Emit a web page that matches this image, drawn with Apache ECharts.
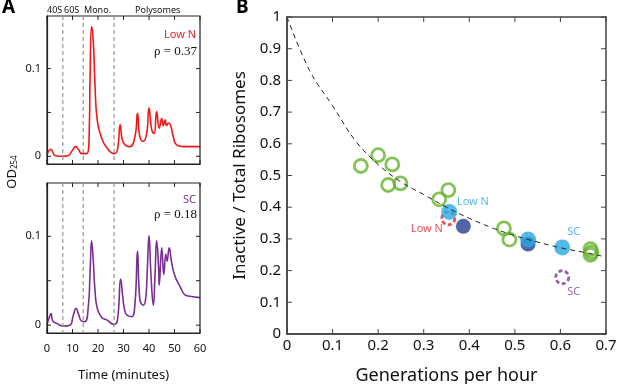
<!DOCTYPE html>
<html>
<head>
<meta charset="utf-8">
<script src="https://cdn.jsdelivr.net/npm/echarts@6/dist/echarts.min.js"></script>
<style>
  html, body { margin: 0; padding: 0; background: #fff; }
  #main { width: 617px; height: 384px; }
</style>
</head>
<body>
<div id="main"></div>
<script>
// Panel A: polysome profiles (time in minutes, OD254)
var lowNTime = [0, 1.5, 3.2, 6.2, 8.4, 10, 11.2, 12.5, 13.6, 15.6, 16.6, 16.9, 17.5, 18.2, 18.8, 19.7, 21.4, 23.4, 26.3, 27.6, 28.7, 29.5, 30.6, 32.5, 34.5, 35.5, 36.4, 37.8, 39.1, 40, 41.1, 42, 43, 44, 45, 45.6, 46.3, 46.9, 47.6, 48.5, 49.5, 50.8, 53.5, 56, 60];
var lowNOD = [0.002, 0.008, 0.001, 0, 0.001, 0.007, 0.011, 0.007, 0.003, 0.003, 0.034, 0.09, 0.148, 0.129, 0.083, 0.041, 0.021, 0.010, 0.003, 0.0074, 0.036, 0.019, 0.013, 0.011, 0.0225, 0.049, 0.0225, 0.017, 0.026, 0.055, 0.030, 0.026, 0.051, 0.032, 0.043, 0.035, 0.0415, 0.035, 0.038, 0.035, 0.0225, 0.013, 0.011, 0.011, 0.011];
var scTime = [0, 0.7, 1.6, 2.2, 3.8, 6.4, 9, 10.3, 11.4, 12.3, 13.6, 14.9, 16.2, 16.9, 17.5, 18.2, 18.8, 19.7, 21.4, 23.4, 26.3, 27.6, 28.9, 29.7, 30.6, 31.5, 33.2, 34.5, 35.5, 36.4, 37.8, 38.7, 39.3, 40, 40.8, 41.7, 42.4, 43, 43.8, 44, 45, 45.8, 46.6, 47.1, 47.9, 48.9, 50.2, 52.2, 54.1, 56, 60];
var scOD = [0.001, 0.007, 0.013, 0.005, 0.002, -0.001, 0, 0.011, 0.019, 0.013, 0.0046, 0.004, 0.021, 0.06, 0.095, 0.070, 0.040, 0.019, 0.009, 0.006, 0.001, 0.005, 0.052, 0.032, 0.015, 0.011, 0.0095, 0.0245, 0.0835, 0.029, 0.0225, 0.03, 0.06, 0.1007, 0.055, 0.0225, 0.06, 0.095, 0.0626, 0.045, 0.087, 0.057, 0.080, 0.072, 0.087, 0.070, 0.055, 0.0435, 0.034, 0.0325, 0.031];
var fractionLines = [6.2, 14.2, 26.3];
var timeTicks = [0, 10, 20, 30, 40, 50, 60];
var odTicks = [0, 0.05, 0.1];

// Panel B: inactive fraction vs growth rate
var greenX = [0.162, 0.200, 0.231, 0.222, 0.249, 0.334, 0.354, 0.476, 0.488, 0.666, 0.668, 0.666];
var greenY = [0.530, 0.564, 0.535, 0.470, 0.475, 0.425, 0.454, 0.333, 0.298, 0.268, 0.258, 0.250];
var darkX = [0.387, 0.529];
var darkY = [0.340, 0.284];
var cyanX = [0.356, 0.529, 0.604];
var cyanY = [0.385, 0.298, 0.273];
var redRingX = [0.354];
var redRingY = [0.365];
var purpleRingX = [0.604];
var purpleRingY = [0.179];
var fitX = [0, 0.05, 0.1, 0.15, 0.2, 0.25, 0.3, 0.35, 0.4, 0.45, 0.5, 0.55, 0.6, 0.65, 0.69];
var fitY = [1, 0.83, 0.72, 0.61, 0.535, 0.48, 0.44, 0.40, 0.365, 0.335, 0.31, 0.29, 0.272, 0.258, 0.246];
var genTicks = [0, 0.1, 0.2, 0.3, 0.4, 0.5, 0.6, 0.7];
var ratioTicks = [0, 0.1, 0.2, 0.3, 0.4, 0.5, 0.6, 0.7, 0.8, 0.9, 1];

function pairs(xs, ys) {
    return xs.map(function (x, i) { return [x, ys[i]]; });
}

var chartDom = document.getElementById('main');
var myChart = echarts.init(chartDom);
var font = 'Noto Sans';

var boxes = [
    { left: 47, top: 16, width: 153, height: 148, color: '#222', lw: 1.2, tick: 4 },
    { left: 47, top: 183, width: 153, height: 150, color: '#222', lw: 1.2, tick: 4 },
    { left: 287, top: 17, width: 319, height: 317, color: '#444', lw: 1.5, tick: 5 }
];

function blank() { return ''; }
function odLabel(v) {
    if (Math.abs(v) < 1e-9) return '0';
    if (Math.abs(v - 0.1) < 1e-9) return '0.1';
    return '';
}

function timeAxis(grid, showLabel) {
    var ax = {
        type: 'value', gridIndex: grid, min: 0, max: 60, interval: 10,
        axisLine: { show: true, onZero: false, lineStyle: { color: '#222', width: 1.2 } },
        axisTick: { show: false },
        axisLabel: { show: true, fontFamily: font, fontSize: 11, color: '#111', margin: 10,
            formatter: showLabel ? '{value}' : blank },
        splitLine: { show: false }
    };
    if (showLabel) {
        ax.name = 'Time (minutes)';
        ax.nameLocation = 'middle';
        ax.nameGap = 36;
        ax.nameTextStyle = { fontFamily: font, fontSize: 13, color: '#111' };
    }
    return ax;
}
function odAxis(grid) {
    return {
        type: 'value', gridIndex: grid, min: -0.0088, max: 0.16, splitNumber: 3,
        axisLine: { show: true, onZero: false, lineStyle: { color: '#222', width: 1.2 } },
        axisTick: { show: false },
        axisLabel: {
            show: true, fontFamily: font, fontSize: 11, color: '#111', margin: 6,
            showMinLabel: false, showMaxLabel: false, formatter: odLabel
        },
        splitLine: { show: false }
    };
}

var option = {
    animation: false,
    grid: boxes.map(function (b) {
        return { left: b.left, top: b.top, width: b.width, height: b.height, outerBoundsMode: 'none' };
    }),
    xAxis: [
        timeAxis(0, false),
        timeAxis(1, true),
        {
            type: 'value', gridIndex: 2, min: 0, max: 0.7, interval: 0.1,
            axisLine: { show: true, onZero: false, lineStyle: { color: '#444', width: 1.5 } },
            axisTick: { show: false },
            axisLabel: { fontFamily: font, fontSize: 15, color: '#111', margin: 4 },
            splitLine: { show: false },
            name: 'Generations per hour', nameLocation: 'middle', nameGap: 33,
            nameTextStyle: { fontFamily: font, fontSize: 18, color: '#111' }
        }
    ],
    yAxis: [
        odAxis(0),
        odAxis(1),
        {
            type: 'value', gridIndex: 2, min: 0, max: 1, interval: 0.1,
            axisLine: { show: true, onZero: false, lineStyle: { color: '#444', width: 1.5 } },
            axisTick: { show: false },
            axisLabel: { fontFamily: font, fontSize: 15, color: '#111', margin: 6 },
            splitLine: { show: false },
            name: 'Inactive / Total Ribosomes', nameLocation: 'middle', nameGap: 25,
            nameTextStyle: { fontFamily: font, fontSize: 17, color: '#111' }
        }
    ],
    series: [
        {
            name: 'Low N', type: 'line', xAxisIndex: 0, yAxisIndex: 0,
            data: pairs(lowNTime, lowNOD), smooth: 0.5, showSymbol: false,
            lineStyle: { color: '#f01818', width: 1.6 }
        },
        {
            name: 'SC', type: 'line', xAxisIndex: 1, yAxisIndex: 1,
            data: pairs(scTime, scOD), smooth: 0.5, showSymbol: false,
            lineStyle: { color: '#7a2f92', width: 1.6 }
        },
        {
            name: 'fit', type: 'line', xAxisIndex: 2, yAxisIndex: 2,
            data: pairs(fitX, fitY), smooth: 0.4, showSymbol: false,
            lineStyle: { color: '#222', width: 1, type: [5, 4] }
        },
        {
            name: 'green', type: 'scatter', xAxisIndex: 2, yAxisIndex: 2,
            data: pairs(greenX, greenY), symbolSize: 13,
            itemStyle: { color: 'rgba(0,0,0,0)', borderColor: '#66b32e', borderWidth: 2.8 }
        },
        {
            name: 'low N ring', type: 'scatter', xAxisIndex: 2, yAxisIndex: 2,
            data: pairs(redRingX, redRingY), symbolSize: 13,
            itemStyle: { color: 'rgba(0,0,0,0)', borderColor: '#e8202a', borderWidth: 2.8, borderType: [4, 2.5] }
        },
        {
            name: 'SC ring', type: 'scatter', xAxisIndex: 2, yAxisIndex: 2,
            data: pairs(purpleRingX, purpleRingY), symbolSize: 13,
            itemStyle: { color: 'rgba(0,0,0,0)', borderColor: '#7c3a96', borderWidth: 2.8, borderType: [4, 2.5] }
        },
        {
            name: 'dark', type: 'scatter', xAxisIndex: 2, yAxisIndex: 2,
            data: pairs(darkX, darkY), symbolSize: 15,
            itemStyle: { color: '#273d8f' }
        },
        {
            name: 'cyan', type: 'scatter', xAxisIndex: 2, yAxisIndex: 2,
            data: pairs(cyanX, cyanY), symbolSize: 16,
            itemStyle: { color: '#27a9e1' }
        },
        {
            name: 'labels', type: 'scatter', xAxisIndex: 2, yAxisIndex: 2,
            symbolSize: 0, silent: true,
            label: { show: true, position: 'inside', fontFamily: font, fontSize: 11, formatter: '{b}' },
            data: [
                { name: 'Low N', value: [0.408, 0.416], label: { color: '#27a9e1' } },
                { name: 'Low N', value: [0.307, 0.331], label: { color: '#e8202a' } },
                { name: 'SC', value: [0.629, 0.321], label: { color: '#27a9e1' } },
                { name: 'SC', value: [0.629, 0.132], label: { color: '#7c3a96' } }
            ]
        }
    ]
};

myChart.setOption(option);

// frames, inward ticks and fraction markers, placed through the axes' own scales
var gfx = [
    { type: 'text', left: 2, top: -2, style: { text: 'A', fontFamily: font, fontWeight: 'bold', fontSize: 19, fill: '#000' } },
    { type: 'text', left: 236, top: -2, style: { text: 'B', fontFamily: font, fontWeight: 'bold', fontSize: 19, fill: '#000' } },
    { type: 'text', x: 47, y: 6, style: { text: '40S', fontFamily: font, fontSize: 9, fill: '#111' } },
    { type: 'text', x: 64, y: 6, style: { text: '60S', fontFamily: font, fontSize: 9, fill: '#111' } },
    { type: 'text', x: 84, y: 6, style: { text: 'Mono.', fontFamily: font, fontSize: 9, fill: '#111' } },
    { type: 'text', x: 135, y: 6, style: { text: 'Polysomes', fontFamily: font, fontSize: 9, fill: '#111' } },
    { type: 'text', x: 196, y: 29, style: { text: 'Low N', align: 'right', fontFamily: font, fontSize: 11, fill: '#e8202a' } },
    { type: 'text', x: 197, y: 45, style: { text: 'ρ = 0.37', align: 'right', fontFamily: 'Liberation Serif', fontSize: 13, fill: '#111' } },
    { type: 'text', x: 196, y: 194, style: { text: 'SC', align: 'right', fontFamily: font, fontSize: 11, fill: '#7a2f92' } },
    { type: 'text', x: 197, y: 208, style: { text: 'ρ = 0.18', align: 'right', fontFamily: 'Liberation Serif', fontSize: 13, fill: '#111' } },
    {
        type: 'text', x: 12, y: 172, rotation: Math.PI / 2,
        style: {
            text: '{a|OD}{b|254}', align: 'center', verticalAlign: 'middle',
            rich: {
                a: { fontFamily: font, fontSize: 13, fill: '#111', verticalAlign: 'bottom' },
                b: { fontFamily: font, fontSize: 8, fill: '#111', verticalAlign: 'bottom', padding: [6, 0, 0, 0] }
            }
        }
    }
];

function seg(x1, y1, x2, y2, color, lw, dash) {
    return {
        type: 'line', silent: true, z: 50,
        shape: { x1: x1, y1: y1, x2: x2, y2: y2 },
        style: { stroke: color, lineWidth: lw, lineDash: dash || null }
    };
}

function decorate(idx, xTicks, yTicks) {
    var b = boxes[idx];
    var bottom = b.top + b.height, right = b.left + b.width;
    gfx.push({
        type: 'rect', silent: true, z: 50,
        shape: { x: b.left, y: b.top, width: b.width, height: b.height },
        style: { fill: null, stroke: b.color, lineWidth: b.lw }
    });
    xTicks.forEach(function (v) {
        var px = myChart.convertToPixel({ xAxisIndex: idx }, v);
        gfx.push(seg(px, bottom, px, bottom - b.tick, b.color, 1));
        gfx.push(seg(px, b.top, px, b.top + b.tick, b.color, 1));
    });
    yTicks.forEach(function (v) {
        var py = myChart.convertToPixel({ yAxisIndex: idx }, v);
        gfx.push(seg(b.left, py, b.left + b.tick, py, b.color, 1));
        gfx.push(seg(right, py, right - b.tick, py, b.color, 1));
    });
}

decorate(0, timeTicks, odTicks);
decorate(1, timeTicks, odTicks);
decorate(2, genTicks, ratioTicks);

[0, 1].forEach(function (idx) {
    var b = boxes[idx];
    fractionLines.forEach(function (t) {
        var px = myChart.convertToPixel({ xAxisIndex: idx }, t);
        gfx.push(seg(px, b.top, px, b.top + b.height, '#9a9490', 1.2, [4, 3]));
    });
});

myChart.setOption({ graphic: gfx });
</script>
</body>
</html>
